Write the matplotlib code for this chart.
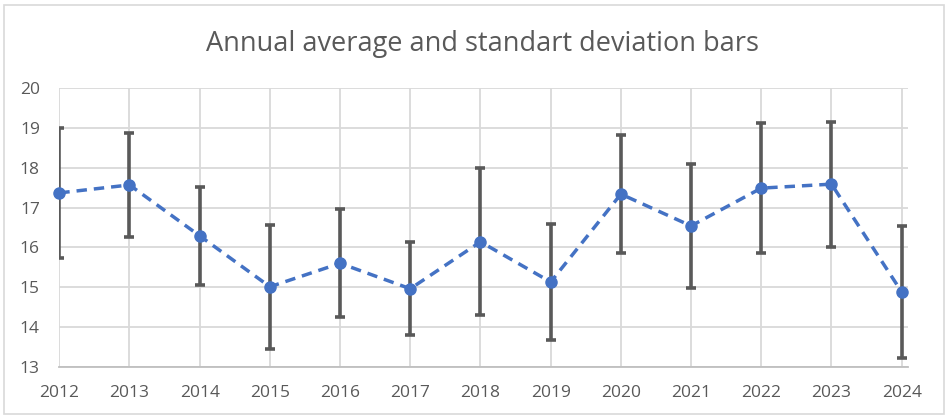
import matplotlib
matplotlib.use("Agg")
import matplotlib.pyplot as plt
from matplotlib.patches import Rectangle

years = [2012, 2013, 2014, 2015, 2016, 2017, 2018, 2019, 2020, 2021, 2022, 2023, 2024]
means = [17.37, 17.57, 16.29, 15.01, 15.60, 14.96, 16.14, 15.13, 17.34, 16.54, 17.49, 17.59, 14.88]
stds = [1.63, 1.30, 1.23, 1.56, 1.36, 1.17, 1.85, 1.47, 1.49, 1.55, 1.64, 1.57, 1.65]
yticks = [13, 14, 15, 16, 17, 18, 19, 20]
title = "Annual average and standart deviation bars"

plt.rcParams['font.family'] = ['Open Sans', 'DejaVu Sans']

W, H = 950, 418
fig = plt.figure(figsize=(W / 100, H / 100), dpi=100)
fig.patches.append(Rectangle((4 / W, 1 - 414 / H), 940 / W, 409 / H, transform=fig.transFigure,
                             fill=False, edgecolor='#d9d9d9', linewidth=1.2))

ax = fig.add_axes([59.3 / W, 1 - 366.7 / H, (908 - 59.3) / W, (366.7 - 88.3) / H])
ax.set_xlim(2012, 2024.09)
ax.set_ylim(13, 20)
ax.set_xticks(years)
ax.set_xticklabels([str(y) for y in years])
ax.set_yticks(yticks)
ax.grid(True, color='#d9d9d9', linewidth=1.3)
ax.set_axisbelow(True)
for s in ['top', 'right', 'left']:
    ax.spines[s].set_visible(False)
ax.spines['bottom'].set_color('#bfbfbf')
ax.spines['bottom'].set_linewidth(1.3)
ax.tick_params(length=0, labelsize=12.5, labelcolor='#595959')
ax.tick_params(axis='x', pad=13)
ax.tick_params(axis='y', pad=14)

ax.errorbar(years, means, yerr=stds, fmt='none', ecolor='#595959', elinewidth=2.6,
            capsize=3.6, capthick=2.6, zorder=3, clip_on=True)
ax.plot(years, means, linestyle=(0, (3, 2)), color='#4472c4', linewidth=2.5,
        marker='o', markersize=8, zorder=4, clip_on=False)

fig.text(0.508, 1 - 44 / H, title, ha='center', va='center', fontsize=19.5, color='#595959')

fig.savefig('out.png', dpi=100)
